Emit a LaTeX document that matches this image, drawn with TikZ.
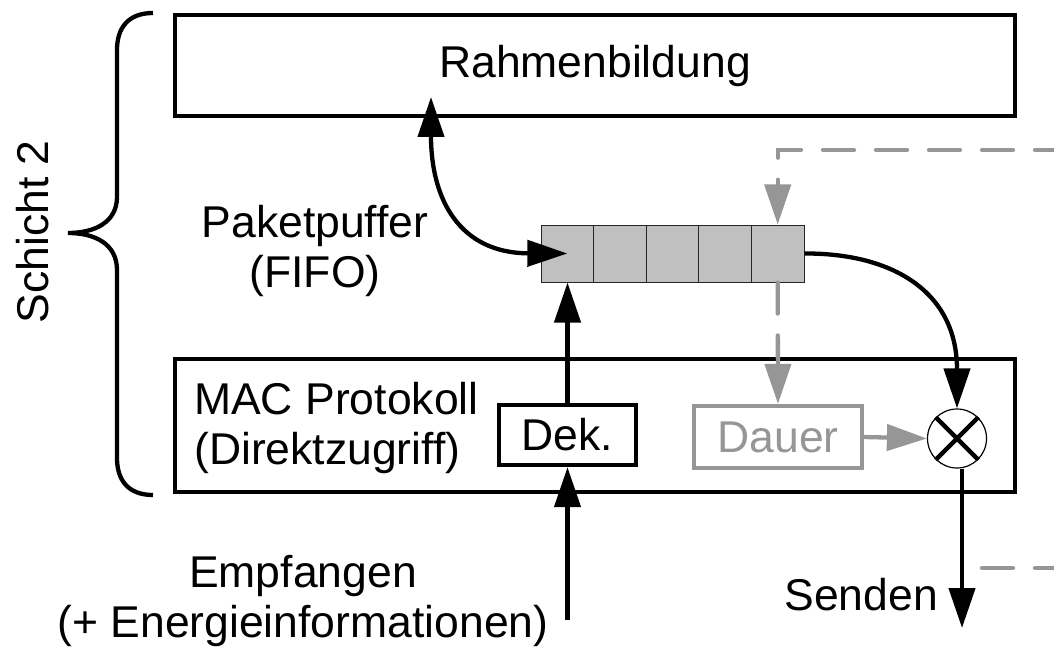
\documentclass[tikz,border=0pt]{standalone}
\usepackage{fontspec}
\setmainfont{Liberation Sans}
\usetikzlibrary{arrows.meta,calc}
\definecolor{flowgray}{RGB}{150,150,150}
\definecolor{cellgray}{RGB}{192,192,192}
\begin{document}
\begin{tikzpicture}[x=1pt,y=-1pt,
  every node/.style={font=\fontsize{44.5}{50}\selectfont, inner sep=0pt},
  box/.style={draw, line width=4.3pt, rectangle},
  cell/.style={draw=black!85, line width=1pt, fill=cellgray,
    minimum width=52.6pt, minimum height=57pt},
  tip/.style={-{Triangle[length=40pt,width=26pt]}},
  flow/.style={line width=4.3pt, tip},
  ctrl/.style={line width=4.3pt, draw=flowgray, line cap=round,
    dash pattern=on 31pt off 22pt},
]
\useasboundingbox (0,0) rectangle (1054,647);

% layer boxes
\node[box, minimum width=840pt, minimum height=101pt] (rahmen) at (595,65.5) {Rahmenbildung};
\node[box, minimum width=840pt, minimum height=133pt] (mac) at (595,425.5) {};
\node[align=left, anchor=north west] (macl) at (194,382.5) {MAC Protokoll\\(Direktzugriff)};

% packet buffer
\foreach \i in {1,...,5}
  \node[cell] (q\i) at ({541+52.6*(\i-0.5)},253.5) {};
\node[align=center, anchor=north] (puffer) at (315,205.5) {Paketpuffer\\(FIFO)};

% inner blocks of the MAC layer
\node[box, minimum width=137pt, minimum height=60pt] (dek) at (567.5,435) {Dek.};
\node[box, draw=flowgray, text=flowgray, minimum width=168pt, minimum height=62pt] (dauer) at (778,437) {Dauer};
\node[circle, draw, line width=1.2pt, minimum size=59pt] (mult) at (957,438.5) {};
\draw[line width=4.3pt] (mult.north west) -- (mult.south east)
                        (mult.north east) -- (mult.south west);

% receive path
\coordinate (empf) at (567.5,620);
\node[align=center, anchor=north] (empfl) at (303,555) {Empfangen\\(+ Energieinformationen)};
\draw[flow] (empf) -- (dek.south);
\draw[flow] (dek.north) -- (dek.north |- q1.south);

% exchange with framing
\coordinate (rin) at (431,97);
\draw[line width=4.3pt, {Triangle[length=40pt,width=26pt]}-{Triangle[length=40pt,width=26pt]}]
  (rin) .. controls (431,200) and (460,253) .. (q1.center);

% send path
\draw[flow] (q5.east) .. controls (890,253) and (957,290) .. (mult.north);
\draw[line width=4.3pt, flowgray, tip] (dauer.east) -- (mult.west);
\coordinate (send) at (962,628);
\draw[flow] (mult.south -| send) -- (send);
\node[anchor=base east] (sendl) at (938,610) {Senden};

% control signals
\coordinate (ctlin) at (1054,150);
\draw[ctrl, dash phase=12pt, tip] (ctlin) -| (q5.north);
\draw[ctrl, tip] (q5.south) -- (dauer.north);
\coordinate (ctla) at (982,568);
\coordinate (ctlb) at (1054,568);
\draw[ctrl] (ctla) -- (ctlb);

% layer brace
\draw[line width=4.3pt]
  (153,13) .. controls (128,13) and (117,28) .. (117,50) -- (117,197)
  .. controls (117,222) and (95,233) .. (68,233)
  .. controls (95,233) and (117,244) .. (117,270) -- (117,458)
  .. controls (117,480) and (128,495) .. (153,495);
\node[rotate=90] (schicht) at (32.5,232) {Schicht 2};
\end{tikzpicture}
\end{document}
